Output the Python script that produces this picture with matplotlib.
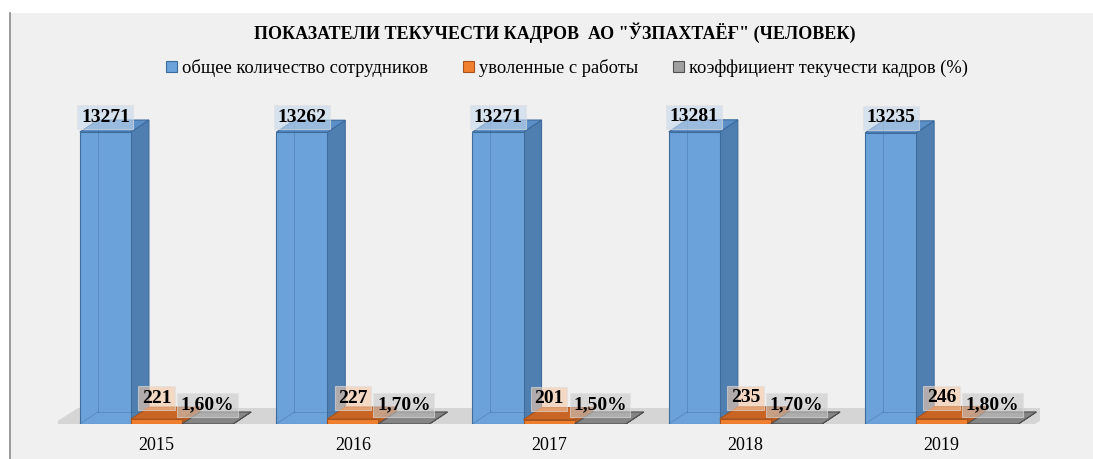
import matplotlib.pyplot as plt
from matplotlib.patches import Polygon, Rectangle
from matplotlib.lines import Line2D
import numpy as np

# data
years = ["2015", "2016", "2017", "2018", "2019"]
total = [13271, 13262, 13271, 13281, 13235]
fired = [221, 227, 201, 235, 246]
rate = [1.60, 1.70, 1.50, 1.70, 1.80]
rate_labels = ["1,60%", "1,70%", "1,50%", "1,70%", "1,80%"]
names = ["общее количество сотрудников", "уволенные с работы",
         "коэффициент текучести кадров (%)"]
title = 'ПОКАЗАТЕЛИ ТЕКУЧЕСТИ КАДРОВ  АО "ЎЗПАХТАЁҒ" (ЧЕЛОВЕК)'

plt.rcParams['font.family'] = ['Liberation Serif', 'DejaVu Serif']

W, H = 1093, 459
fig = plt.figure(figsize=(W / 100, H / 100), dpi=100)
fig.patch.set_facecolor('white')
# grey chart panel with a thin left border
fig.add_artist(Rectangle((9 / W, 0), 1 - 9 / W, (H - 13) / H, transform=fig.transFigure,
                         facecolor='#f0f0f0', edgecolor='none', zorder=0))
fig.add_artist(Line2D([9.5 / W, 9.5 / W], [0, (H - 13) / H], color='#8c8c8c', lw=1.2))

ax_l, ax_r, ax_b, ax_t = 58.3, 1039.8, 424, 94
ymax = 15000
ax = fig.add_axes([ax_l / W, (H - ax_b) / H, (ax_r - ax_l) / W, (ax_b - ax_t) / H])
ax.set_xlim(-0.5, 4.5)
ax.set_ylim(0, ymax)
ax.patch.set_alpha(0)
for s in ax.spines.values():
    s.set_visible(False)
ax.set_yticks([])

ux = (ax_r - ax_l) / 5.0
uy = (ax_b - ax_t) / ymax


def off(px, py):
    return px / ux, py * 1.0 / uy


x = np.arange(len(years))
bw = 0.26
dx, dy = off(18, 12)

# floor
fdx, fdy = off(25, 16)
fl, fr = -0.527, 4.475
ax.add_patch(Polygon([(fl, 0), (fr, 0), (fr + fdx, fdy), (fl + fdx, fdy)],
                     closed=True, fc='#d5d5d5', ec='none', zorder=1))

styles = [
    dict(front='#6ca2da', top='#5b8fc8', side='#4f7fb0', edge='#3d6b9c', box='#c5d9ee'),
    dict(front='#f0802f', top='#c96524', side='#b85b1f', edge='#a9541c', box='#f6c9a8'),
    dict(front='#a0a0a0', top='#858585', side='#6f6f6f', edge='#505050', box='#c8c8c8'),
]
series = [total, fired, rate]
texts = [[str(v) for v in total], [str(v) for v in fired], rate_labels]
lab_off = [15, 21, 19]

handles = []
z = 2
for k, (vals, st) in enumerate(zip(series, styles)):
    xs = x + (k - 1) * bw
    for xc, v in zip(xs, vals):
        x0, x1 = xc - bw / 2, xc + bw / 2
        ax.add_patch(Polygon([(x1, 0), (x1 + dx, dy), (x1 + dx, v + dy), (x1, v)],
                             closed=True, fc=st['side'], ec=st['edge'], lw=0.8, zorder=z))
        ax.add_patch(Polygon([(x0, v), (x1, v), (x1 + dx, v + dy), (x0 + dx, v + dy)],
                             closed=True, fc=st['top'], ec=st['edge'], lw=0.8, zorder=z))
    b = ax.bar(xs, vals, width=bw, color=st['front'], edgecolor=st['edge'], lw=0.8,
               zorder=z + 0.5, label=names[k])
    # faint inner edges for the glassy look
    for xc, v in zip(xs, vals):
        x0 = xc - bw / 2
        if v > 1000:
            ax.plot([x0 + dx, x0 + dx], [dy, v + dy], color=st['edge'], lw=0.7,
                    alpha=0.4, zorder=z + 0.6)
            ax.plot([x0, x0 + dx], [0, dy], color=st['edge'], lw=0.7, alpha=0.4, zorder=z + 0.6)
            ax.plot([x0 + dx, x0 + bw + dx], [dy, dy], color=st['edge'], lw=0.7,
                    alpha=0.4, zorder=z + 0.6)
    handles.append(b)
    z += 1

for k, vals in enumerate(series):
    xs = x + (k - 1) * bw
    for xc, v, t in zip(xs, vals, texts[k]):
        ax.annotate(t, (xc, v), xytext=(0, lab_off[k] * 0.72), textcoords='offset points',
                    ha='center', va='center', fontsize=14, fontweight='bold', zorder=10,
                    bbox=dict(boxstyle='square,pad=0.18', fc=styles[k]['box'], alpha=0.6,
                              ec='#e0e0e0', lw=0.8))

ax.set_xticks(x, years, fontsize=13)
ax.tick_params(axis='x', length=0, pad=9)

fig.text(555 / W, 1 - 33 / H, title, ha='center', va='center', fontsize=13,
         fontweight='bold')
fig.legend(handles=handles, loc='center', bbox_to_anchor=(567 / W, 1 - 68 / H), ncol=3,
           frameon=False, fontsize=13.3, handlelength=0.6, handleheight=0.6,
           handletextpad=0.25, columnspacing=1.9)

fig.savefig('out.png', dpi=100)
